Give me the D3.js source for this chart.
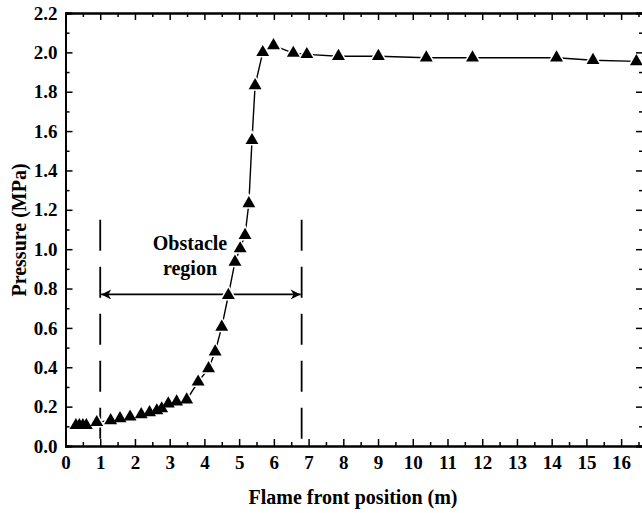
<!DOCTYPE html>
<html><head><meta charset="utf-8">
<script src="https://cdn.jsdelivr.net/npm/d3@7"></script>
<style>body{margin:0;background:#fff} svg{display:block}</style>
</head><body><svg id="c" width="642" height="513"></svg>
<script>
const position = [0.3,0.4,0.5,0.6,0.9,1.3,1.57,1.86,2.18,2.42,2.63,2.77,2.96,3.2,3.49,3.82,4.12,4.31,4.5,4.69,4.88,5.03,5.17,5.28,5.37,5.46,5.68,5.99,6.56,6.95,7.86,9.01,10.39,11.72,14.14,15.19,16.44];
const pressure = [0.105,0.105,0.105,0.105,0.12,0.13,0.14,0.148,0.16,0.17,0.18,0.19,0.215,0.225,0.235,0.326,0.394,0.479,0.605,0.766,0.935,1.003,1.071,1.232,1.553,1.832,2.0,2.035,1.996,1.99,1.98,1.98,1.973,1.973,1.973,1.96,1.954];
const xTickValues = d3.range(0, 17, 1);
const xMinorValues = d3.range(0.5, 16.6, 1);
const yTickValues = [0,0.2,0.4,0.6,0.8,1.0,1.2,1.4,1.6,1.8,2.0,2.2];
const yMinorValues = [0.1,0.3,0.5,0.7,0.9,1.1,1.3,1.5,1.7,1.9,2.1];
const obstacleBounds = [1.0, 6.8];
const obstacleTop = 1.15;
const arrowLevel = 0.77;
const obstacleLabel = ["Obstacle", "region"];
const xTitle = "Flame front position (m)";
const yTitle = "Pressure (MPa)";

const svg = d3.select("#c");
const L = 65.5, R = 643, T = 13, B = 446;
const x = d3.scaleLinear().domain([0, 16.63]).range([L, R]);
const y = d3.scaleLinear().domain([0, 2.2]).range([B, T]);
const font = "'Liberation Serif','Times New Roman',serif";

const defs = svg.append("defs");
defs.append("marker").attr("id","ah").attr("viewBox","0 0 10 10").attr("refX",10).attr("refY",5)
  .attr("markerWidth",14).attr("markerHeight",10).attr("markerUnits","userSpaceOnUse").attr("orient","auto-start-reverse")
  .append("path").attr("d","M0,0 L10,5 L0,10 L3,5 Z").attr("fill","#000");

// obstacle dashed lines
obstacleBounds.forEach(v => {
  svg.append("line").attr("x1", x(v)).attr("x2", x(v)).attr("y1", y(obstacleTop)).attr("y2", y(0))
    .attr("stroke","#000").attr("stroke-width",1.8).attr("stroke-dasharray","31,16");
});
svg.append("line").attr("x1", x(obstacleBounds[0])+1).attr("x2", x(obstacleBounds[1])-1)
  .attr("y1", y(arrowLevel)).attr("y2", y(arrowLevel))
  .attr("stroke","#000").attr("stroke-width",1.8)
  .attr("marker-start","url(#ah)").attr("marker-end","url(#ah)");
svg.append("g").selectAll("text").data(obstacleLabel).join("text")
  .attr("x", 190).attr("y", (d,i) => 250 + i*25)
  .attr("text-anchor","middle").attr("font-family",font).attr("font-weight","bold").attr("font-size",20)
  .text(d => d);

// data line
const pts = position.map((p,i) => [p, pressure[i]]);
svg.append("path").datum(pts)
  .attr("d", d3.line().x(d => x(d[0])).y(d => y(d[1])))
  .attr("fill","none").attr("stroke","#000").attr("stroke-width",1.4);
const sym = d3.symbol(d3.symbolTriangle, 72);
svg.append("g").selectAll("path").data(pts).join("path")
  .attr("transform", d => `translate(${x(d[0])},${y(d[1])})`)
  .attr("d", sym).attr("fill","#fff").attr("stroke","#fff").attr("stroke-width",3);
svg.append("g").selectAll("path").data(pts).join("path")
  .attr("transform", d => `translate(${x(d[0])},${y(d[1])})`)
  .attr("d", sym).attr("fill","#000");

// axes
const axB = svg.append("g").attr("transform",`translate(0,${B})`)
  .call(d3.axisBottom(x).tickValues(xTickValues).tickSize(-7).tickPadding(10).tickFormat(d3.format("d")));
const axBm = svg.append("g").attr("transform",`translate(0,${B})`)
  .call(d3.axisBottom(x).tickValues(xMinorValues).tickSize(-4).tickFormat(""));
const axT = svg.append("g").attr("transform",`translate(0,${T})`)
  .call(d3.axisTop(x).tickValues(xTickValues).tickSize(-7).tickFormat(""));
const axTm = svg.append("g").attr("transform",`translate(0,${T})`)
  .call(d3.axisTop(x).tickValues(xMinorValues).tickSize(-4).tickFormat(""));
const axL = svg.append("g").attr("transform",`translate(${L},0)`)
  .call(d3.axisLeft(y).tickValues(yTickValues).tickSize(-7).tickPadding(8).tickFormat(d3.format(".1f")));
const axLm = svg.append("g").attr("transform",`translate(${L},0)`)
  .call(d3.axisLeft(y).tickValues(yMinorValues).tickSize(-4).tickFormat(""));
const axR = svg.append("g").attr("transform",`translate(${R},0)`)
  .call(d3.axisRight(y).tickValues(yTickValues).tickSize(-7).tickFormat(""));
const axRm = svg.append("g").attr("transform",`translate(${R},0)`)
  .call(d3.axisRight(y).tickValues(yMinorValues).tickSize(-4).tickFormat(""));
[axB,axBm,axT,axTm,axL,axLm,axR,axRm].forEach(g => {
  g.selectAll(".domain").attr("stroke","#000").attr("stroke-width",1.8);
  g.selectAll(".tick line").attr("stroke","#000").attr("stroke-width",1.5);
  g.selectAll("text").attr("font-family",font).attr("font-weight","bold").attr("font-size",19).attr("fill","#000");
});

svg.append("text").attr("x", 353).attr("y", 504).attr("text-anchor","middle")
  .attr("font-family",font).attr("font-weight","bold").attr("font-size",20).text(xTitle);
svg.append("text").attr("transform","translate(26,230) rotate(-90)").attr("text-anchor","middle")
  .attr("font-family",font).attr("font-weight","bold").attr("font-size",20).text(yTitle);
</script></body></html>
